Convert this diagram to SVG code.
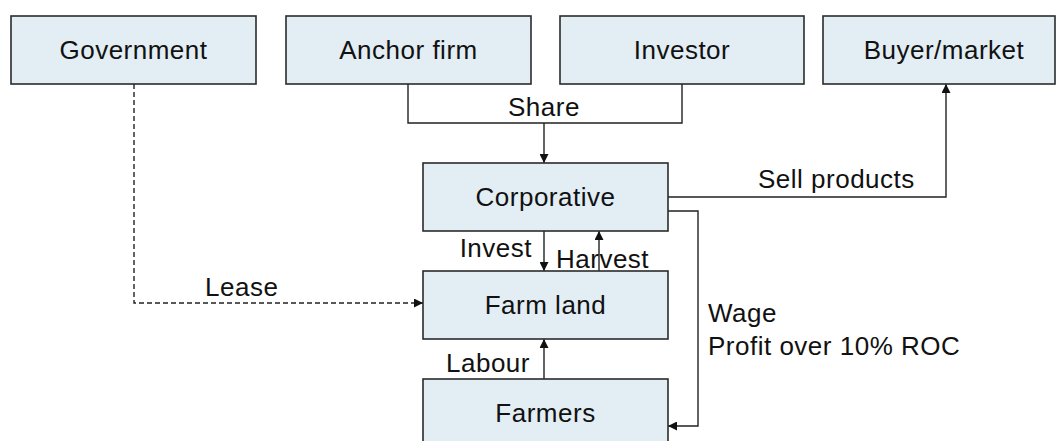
<svg xmlns="http://www.w3.org/2000/svg" width="1056" height="441" viewBox="0 0 1056 441">
<style>
.box{fill:#e2edf4;stroke:#2b2b2b;stroke-width:1.6}
.t{font-family:"Liberation Sans",Arial,sans-serif;font-size:26px;letter-spacing:0.5px;fill:#111}
.c{text-anchor:middle}
.ln{fill:none;stroke:#222;stroke-width:1.4}
.dash{stroke-dasharray:5,3}
</style>
<defs>
<marker id="ah" viewBox="0 0 10 10" refX="10" refY="5" markerWidth="9" markerHeight="9" markerUnits="userSpaceOnUse" orient="auto">
<path d="M0,0 L10,5 L0,10 z" fill="#111"/>
</marker>
</defs>
<rect width="1056" height="441" fill="#fff"/>
<g id="connectors">
<path class="ln" d="M408,84 V123 H682 V84"/>
<path class="ln" d="M544,123 V163" marker-end="url(#ah)"/>
<path class="ln dash" d="M134,84 V303 H423" marker-end="url(#ah)"/>
<path class="ln" d="M668,197 H946 V84" marker-end="url(#ah)"/>
<path class="ln" d="M544,231 V271" marker-end="url(#ah)"/>
<path class="ln" d="M599,271 V231" marker-end="url(#ah)"/>
<path class="ln" d="M544,379 V339" marker-end="url(#ah)"/>
<path class="ln" d="M668,211 H698 V426 H668" marker-end="url(#ah)"/>
<text class="t" x="508" y="116">Share</text>
<text class="t" x="205" y="296">Lease</text>
<text class="t" x="758" y="188">Sell products</text>
<text class="t" x="532" y="257" text-anchor="end">Invest</text>
<text class="t" x="556" y="268">Harvest</text>
<text class="t" x="446" y="372">Labour</text>
<text class="t" x="708" y="322">Wage</text>
<text class="t" x="708" y="355">Profit over 10% ROC</text>
</g>
<g id="government"><rect class="box" x="11" y="16" width="245" height="68"/><text class="t c" x="133.5" y="59">Government</text></g>
<g id="anchor-firm"><rect class="box" x="286" y="16" width="245" height="68"/><text class="t c" x="408.5" y="59">Anchor firm</text></g>
<g id="investor"><rect class="box" x="560" y="16" width="244" height="68"/><text class="t c" x="682" y="59">Investor</text></g>
<g id="buyer-market"><rect class="box" x="823" y="16" width="232" height="68"/><text class="t c" x="944" y="59">Buyer/market</text></g>
<g id="corporative"><rect class="box" x="423" y="163" width="245" height="68"/><text class="t c" x="545.5" y="206">Corporative</text></g>
<g id="farm-land"><rect class="box" x="423" y="271" width="245" height="68"/><text class="t c" x="545.5" y="314">Farm land</text></g>
<g id="farmers"><rect class="box" x="423" y="379" width="245" height="68"/><text class="t c" x="545.5" y="422">Farmers</text></g>
</svg>
